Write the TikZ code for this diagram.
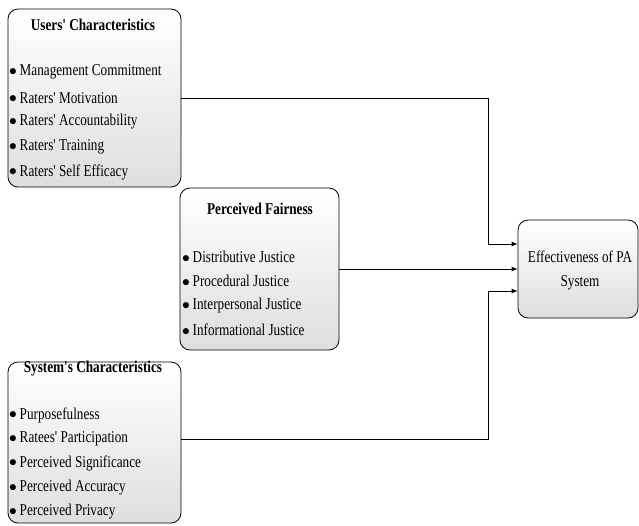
\documentclass[tikz,border=0pt]{standalone}
\usepackage{fontspec}
\setmainfont{Liberation Serif}[FakeStretch=0.8, Ligatures=TeXOff]
\usetikzlibrary{arrows.meta,calc}
\tikzset{
  box/.style={draw=black, line width=0.8pt, rounded corners=10pt, top color=white, bottom color=black!13, inner sep=0pt},
  ttl/.style={font=\fontsize{16.5}{18}\selectfont\bfseries, inner sep=0pt},
  itm/.style={font=\fontsize{16.5}{18}\selectfont, anchor=west, inner sep=0pt},
  arr/.style={line width=0.8pt, -{Latex[length=6pt,width=5pt]}}
}
\newcommand{\bul}{\raisebox{0.5pt}{\scalebox{0.9}{$\bullet$}}\,}
\begin{document}
\begin{tikzpicture}[x=1pt,y=-1pt]
\useasboundingbox (0,0) rectangle (639,525);
% boxes
\node[box, minimum width=173pt, minimum height=178pt] (users) at (94.5,98) {};
\node[box, minimum width=159pt, minimum height=162pt] (pf) at (259.5,269) {};
\node[box, minimum width=173pt, minimum height=161pt] (sys) at (94.5,442.5) {};
\node[box, minimum width=120pt, minimum height=98pt] (eff) at (578,269) {};
% users texts
\node[ttl] (ut) at (93,25) {Users' Characteristics};
\node[itm] (u1) at (9,72) {\bul Management Commitment};
\node[itm] (u2) at (9,98) {\bul Raters' Motivation};
\node[itm] (u3) at (9,122) {\bul Raters' Accountability};
\node[itm] (u4) at (9,147) {\bul Raters' Training};
\node[itm] (u5) at (9,172) {\bul Raters' Self Efficacy};
% perceived fairness
\node[ttl] (pt) at (260,209) {Perceived Fairness};
\node[itm] (p1) at (182,257) {\bul Distributive Justice};
\node[itm] (p2) at (182,281) {\bul Procedural Justice};
\node[itm] (p3) at (182,306) {\bul Interpersonal Justice};
\node[itm] (p4) at (182,330) {\bul Informational Justice};
% system
\node[ttl] (st) at (93,369) {System's Characteristics};
\node[itm] (s1) at (9,415) {\bul Purposefulness};
\node[itm] (s2) at (9,439) {\bul Ratees' Participation};
\node[itm] (s3) at (9,463) {\bul Perceived Significance};
\node[itm] (s4) at (9,488) {\bul Perceived Accuracy};
\node[itm] (s5) at (9,512) {\bul Perceived Privacy};
% effectiveness
\node[align=center, font=\fontsize{16.5}{24}\selectfont, inner sep=0pt] (et) at (580,270) {Effectiveness of PA\\System};
% connectors
\draw[arr] (users.east) -| ([xshift=-29pt,yshift=25pt]eff.west) -- ([yshift=25pt]eff.west);
\draw[arr] (pf.east) -- (eff.west);
\draw[arr] ([yshift=3.5pt]sys.east) -| ([xshift=-29pt,yshift=-22pt]eff.west) -- ([yshift=-22pt]eff.west);
\end{tikzpicture}
\end{document}
